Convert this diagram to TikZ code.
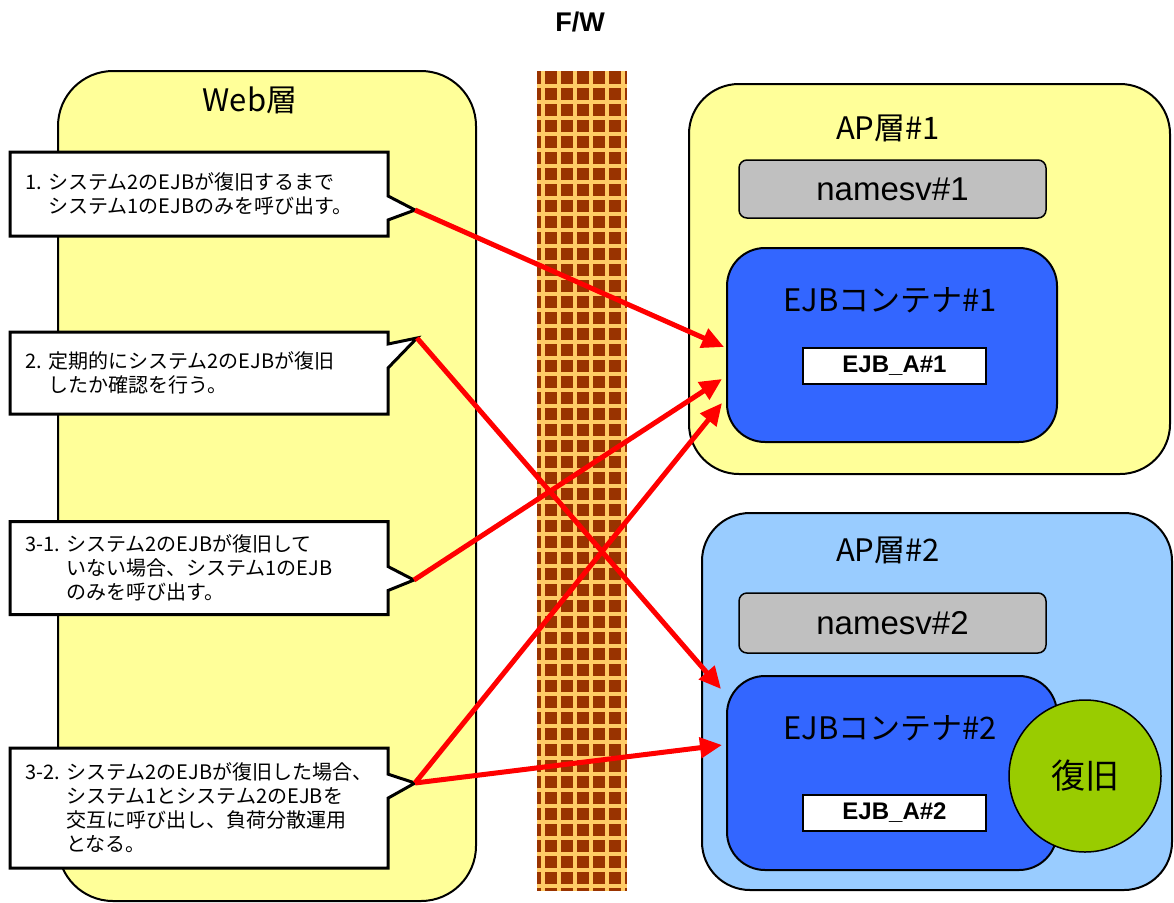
\documentclass[tikz,border=0pt]{standalone}
\usepackage{fontspec}
\setmainfont{Liberation Sans}
\newfontfamily\jpfont{Noto Sans CJK JP}
\usetikzlibrary{positioning,calc,arrows.meta,shapes.callouts}
\definecolor{webyellow}{HTML}{FFFF99}
\definecolor{apblue}{HTML}{99CCFF}
\definecolor{ejbblue}{HTML}{3366FF}
\definecolor{namegray}{HTML}{C0C0C0}
\definecolor{recovgreen}{HTML}{99CC00}
\definecolor{fwbrown}{HTML}{993300}
\definecolor{fwline}{HTML}{FFCC66}
\tikzset{
  layer/.style={draw=black, line width=2pt, rounded corners=55pt},
  layerlabel/.style={font=\jpfont\fontsize{31}{36}\selectfont},
  nameserver/.style={draw=black, line width=1.5pt, rounded corners=8pt, fill=namegray,
    minimum width=307pt, minimum height=58pt, font=\fontsize{33}{38}\selectfont},
  container/.style={draw=black, line width=2pt, rounded corners=38pt, fill=ejbblue,
    minimum width=330pt, minimum height=194pt},
  bean/.style={draw=black, line width=1.2pt, fill=white, minimum width=183pt,
    minimum height=36pt, font=\fontsize{24}{28}\selectfont\bfseries},
  balloon/.style={rectangle callout, draw=black, line width=3pt, fill=white,
    text width=348pt, inner xsep=15pt, align=left, callout pointer width=24pt,
    font=\jpfont\fontsize{20}{24}\selectfont},
  brick/.style={draw=fwline, line width=3.2pt},
  call/.style={draw=red, line width=5pt, -{Triangle[length=22pt,width=20pt]}}
}

\begin{document}
\begin{tikzpicture}[x=1pt,y=-1pt]
  \useasboundingbox (0,0) rectangle (1174,902);

  % web layer and the notes
  \node[layer, fill=webyellow, minimum width=418pt, minimum height=830pt] (web) at (267,486) {};
  \node[layerlabel] (weblabel) at (250,100) {Web層};

  \coordinate (t1) at (415,210);
  \coordinate (t2) at (417,338);
  \coordinate (t3) at (414,580);
  \coordinate (t4) at (415,783);

  \node[balloon, minimum height=84pt, callout absolute pointer={(t1)}] (note1) at (199,194)
    {1.~システム2のEJBが復旧するまで\\\phantom{1.~}システム1のEJBのみを呼び出す。};
  \node[balloon, minimum height=82pt, callout absolute pointer={(t2)}] (note2) at (199,373)
    {2.~定期的にシステム2のEJBが復旧\\\phantom{2.~}したか確認を行う。};
  \node[balloon, minimum height=93pt, callout absolute pointer={(t3)}] (note3) at (199,568)
    {3-1.~システム2のEJBが復旧して\\\phantom{3-1.~}いない場合、システム1のEJB\\\phantom{3-1.~}のみを呼び出す。};
  \node[balloon, minimum height=120pt, callout absolute pointer={(t4)}] (note4) at (199,808)
    {3-2.~システム2のEJBが復旧した場合、\\\phantom{3-2.~}システム1とシステム2のEJBを\\\phantom{3-2.~}交互に呼び出し、負荷分散運用\\\phantom{3-2.~}となる。};

  % firewall
  \node[font=\fontsize{27}{31}\selectfont\bfseries] (fwlabel) at (580,22) {F/W};
  \node[fill=fwbrown, minimum width=90pt, minimum height=820pt, inner sep=0pt] (fw) at (582,481) {};
  \begin{scope}
    \clip (fw.north west) rectangle (fw.south east);
    \foreach \gx in {543,559,...,623}
      \draw[brick] (\gx,71) -- (\gx,891);
    \foreach \gy in {86,102,...,886}
      \draw[brick] (537,\gy) -- (627,\gy);
  \end{scope}

  % AP layer #1
  \node[layer, fill=webyellow, rounded corners=50pt, minimum width=481pt, minimum height=390pt] (ap1) at (929.5,279) {};
  \node[layerlabel] (ap1label) at (888,128) {AP層\#1};
  \node[nameserver] (ns1) at (892.5,189) {namesv\#1};
  \node[container] (ejb1) at (892,345) {};
  \node[layerlabel] (ejb1label) at (890,300) {EJBコンテナ\#1};
  \node[bean] (bean1) at (894.5,366) {EJB\_A\#1};

  % AP layer #2
  \node[layer, fill=apblue, rounded corners=48pt, minimum width=470pt, minimum height=377pt] (ap2) at (937,701.5) {};
  \node[layerlabel] (ap2label) at (888,550) {AP層\#2};
  \node[nameserver, minimum height=60pt] (ns2) at (892.5,623) {namesv\#2};
  \node[container] (ejb2) at (892,773) {};
  \node[layerlabel] (ejb2label) at (890,728) {EJBコンテナ\#2};
  \node[bean] (bean2) at (894.5,813) {EJB\_A\#2};
  \node[circle, draw=black, line width=1.5pt, fill=recovgreen, minimum size=152pt,
    font=\jpfont\fontsize{34}{40}\selectfont] (recov) at (1085,776) {復旧};

  % calls through the firewall
  \draw[call] (t1) -- ($(ejb1.west)+(-2,2)$);
  \draw[call] (t2) -- ($(ejb2.north west)+(-5,14)$);
  \draw[call] (t3) -- ($(ejb1.west)+(-4,34)$);
  \draw[call] (t4) -- ($(ejb1.west)+(-4,58)$);
  \draw[call] (t4) -- ($(ejb2.west)+(-4,-28)$);
\end{tikzpicture}
\end{document}
